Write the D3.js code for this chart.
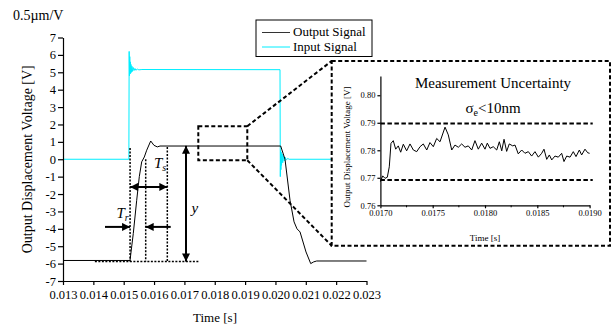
<!DOCTYPE html>
<html>
<head>
<meta charset="utf-8">
<script src="https://cdn.jsdelivr.net/npm/d3@7"></script>
<style>
  body { margin: 0; background: #fff; }
  svg text { font-family: "Liberation Serif", "DejaVu Serif", serif !important; }
</style>
</head>
<body>
<svg id="chart" width="613" height="325"></svg>
<script>
// ---- main plot data ----
const outputTime = [0.013, 0.015208, 0.015316, 0.015428, 0.015514, 0.015593, 0.015679, 0.015758, 0.015890,
  0.015998, 0.016107, 0.016196, 0.020173, 0.020315, 0.020480, 0.020613, 0.020710, 0.020810, 0.021007,
  0.021162, 0.021260, 0.021359, 0.023];
const outputVolt = [-5.82, -5.82, -4.27, -2.36, -1.0, -0.15, 0.13, 0.52, 1.05,
  0.80, 0.71, 0.76, 0.76, 0.0, -2.36, -3.6, -4.0, -4.18, -5.33,
  -6.0, -5.9, -5.85, -5.85];

const inputTime = [0.013, 0.01517, 0.01518, 0.01519, 0.01520, 0.01521, 0.01522, 0.01523, 0.01524, 0.01525,
  0.01527, 0.01529, 0.01531, 0.01534, 0.01537, 0.01540, 0.01545, 0.01550, 0.01560, 0.02015,
  0.02016, 0.02017, 0.02018, 0.02019, 0.02020, 0.02022, 0.02024, 0.02026, 0.02029, 0.02032,
  0.02036, 0.02040, 0.02045, 0.023];
const inputVolt = [0, 0, 6.2, 4.8, 5.9, 4.9, 5.6, 4.95, 5.45, 5.0,
  5.35, 5.05, 5.28, 5.1, 5.22, 5.12, 5.18, 5.14, 5.16, 5.15,
  -1.0, 0.5, -0.6, 0.4, -0.35, 0.3, -0.2, 0.2, -0.1, 0.12,
  -0.05, 0.05, 0, 0];

const xTicks = [0.013, 0.014, 0.015, 0.016, 0.017, 0.018, 0.019, 0.020, 0.021, 0.022, 0.023];
const yTicks = [-7, -6, -5, -4, -3, -2, -1, 0, 1, 2, 3, 4, 5, 6, 7];

// ---- annotation positions (data units) ----
const tStart = 0.01521, tRise = 0.015725, tSettle = 0.016437, tY = 0.017053;
const vBase = -5.88, vFinal = 0.77;
const zoomBox = [0.017458, 0.019072, 1.9, -0.06];

// ---- inset data ----
const insetTime = [0.01700, 0.017022, 0.017044, 0.017066, 0.017085, 0.017101, 0.017123, 0.017146, 0.017171, 0.017194,
  0.017219, 0.017251, 0.017283, 0.017315, 0.017347, 0.017379, 0.017410, 0.017443, 0.017474, 0.017506,
  0.017538, 0.017570, 0.017618, 0.017649, 0.017682, 0.017713, 0.017745, 0.017777, 0.017809, 0.017840,
  0.017873, 0.017904, 0.017936, 0.017968, 0.018000, 0.018022, 0.018048, 0.018079, 0.018112, 0.018137,
  0.018160, 0.018182, 0.018207, 0.018232, 0.018265, 0.018287, 0.018318, 0.018351, 0.018382, 0.018414,
  0.018446, 0.018478, 0.018510, 0.018542, 0.018564, 0.018590, 0.018615, 0.018638, 0.018669, 0.018701,
  0.018733, 0.018755, 0.018781, 0.018813, 0.018844, 0.018870, 0.018902, 0.018924, 0.018956, 0.018982,
  0.01900];
const insetVolt = [0.7686, 0.7707, 0.7698, 0.7702, 0.7740, 0.7825, 0.7835, 0.7804, 0.7816, 0.7793,
  0.7822, 0.7798, 0.7823, 0.7801, 0.7795, 0.7813, 0.7823, 0.7801, 0.7828, 0.7813,
  0.7843, 0.7831, 0.7884, 0.7856, 0.7801, 0.7819, 0.7811, 0.7823, 0.7811, 0.7816,
  0.7801, 0.7835, 0.7804, 0.7826, 0.7804, 0.7826, 0.7807, 0.7813, 0.7801, 0.7831,
  0.7798, 0.7840, 0.7796, 0.7823, 0.7816, 0.7819, 0.7787, 0.7801, 0.7789, 0.7795,
  0.7779, 0.7795, 0.7775, 0.7789, 0.7804, 0.7767, 0.7783, 0.7765, 0.7779, 0.7775,
  0.7789, 0.7759, 0.7779, 0.7775, 0.7795, 0.7777, 0.7801, 0.7783, 0.7804, 0.7791,
  0.7789];
const insetBand = [0.7692, 0.7897];
const insetXTicks = [0.0170, 0.0175, 0.0180, 0.0185, 0.0190];
const insetXMinor = [0.01725, 0.01775, 0.01825, 0.01875];
const insetYTicks = [0.76, 0.77, 0.78, 0.79, 0.80];

const FONT = "Liberation Serif";
const svg = d3.select("#chart");

svg.append("defs").append("marker")
  .attr("id", "head")
  .attr("viewBox", "0 0 10 10")
  .attr("refX", 10).attr("refY", 5)
  .attr("markerUnits", "userSpaceOnUse")
  .attr("markerWidth", 9).attr("markerHeight", 8)
  .attr("orient", "auto-start-reverse")
  .append("path").attr("d", "M0,0L10,5L0,10Z").attr("fill", "#000");

// ---- main plot ----
const x = d3.scaleLinear().domain([0.013, 0.023]).range([63, 366.5]);
const y = d3.scaleLinear().domain([-7, 7]).range([281, 37.5]);

const line = d3.line().x(d => x(d[0])).y(d => y(d[1]));

svg.append("path")
  .attr("d", line(d3.zip(inputTime, inputVolt)))
  .attr("fill", "none").attr("stroke", "#00eeff").attr("stroke-width", 1);

svg.append("path")
  .attr("d", line(d3.zip(outputTime, outputVolt)))
  .attr("fill", "none").attr("stroke", "#000").attr("stroke-width", 1);

const xAxis = svg.append("g")
  .attr("transform", `translate(0,${y(-7)})`)
  .call(d3.axisBottom(x).tickValues(xTicks).tickFormat(d3.format(".3f")).tickSize(4).tickSizeOuter(0).tickPadding(5));
const yAxis = svg.append("g")
  .attr("transform", `translate(${x(0.013)},0)`)
  .call(d3.axisLeft(y).tickValues(yTicks).tickFormat(d => String(d)).tickSize(5).tickSizeOuter(0).tickPadding(2));
[xAxis, yAxis].forEach(a => {
  a.attr("font-family", FONT);
  a.selectAll("text").attr("font-size", 12.5).attr("fill", "#000");
  a.selectAll("line,path").attr("stroke", "#000").attr("stroke-width", 1.2);
});

svg.append("text").attr("x", 215).attr("y", 322).attr("text-anchor", "middle")
  .attr("font-size", 13).text("Time [s]");
svg.append("text")
  .attr("transform", `translate(32,${y(0)}) rotate(-90)`)
  .attr("text-anchor", "middle").attr("font-size", 14)
  .text("Output Displacement Voltage [V]");
svg.append("text").attr("x", 13).attr("y", 20).attr("font-size", 14).text("0.5\u00b5m/V");

// legend
const legend = svg.append("g");
legend.append("rect").attr("x", 256).attr("y", 20).attr("width", 116).attr("height", 36.5)
  .attr("fill", "#fff").attr("stroke", "#000").attr("stroke-width", 1);
[["Output Signal", "#333", 32.5, 36], ["Input Signal", "#00eeff", 47, 51]].forEach(([label, c, ly, ty]) => {
  legend.append("line").attr("x1", 262).attr("x2", 290).attr("y1", ly).attr("y2", ly)
    .attr("stroke", c).attr("stroke-width", 1);
  legend.append("text").attr("x", 293).attr("y", ty).attr("font-size", 13).text(label);
});

// annotations
const ann = svg.append("g").attr("stroke", "#000");
const dotted = "2,1.5";
ann.append("line").attr("x1", x(0.01405)).attr("x2", x(0.01751)).attr("y1", y(vBase)).attr("y2", y(vBase))
  .attr("stroke-width", 1.5).attr("stroke-dasharray", dotted);
[[tStart, 0.65], [tRise, 0], [tSettle, 0.7]].forEach(([t, top]) => {
  ann.append("line").attr("x1", x(t)).attr("x2", x(t)).attr("y1", y(top)).attr("y2", y(vBase))
    .attr("stroke-width", 1.5).attr("stroke-dasharray", dotted);
});
ann.append("line").attr("x1", x(tStart)).attr("x2", x(tSettle)).attr("y1", y(-1.59)).attr("y2", y(-1.59))
  .attr("stroke-width", 2).attr("marker-start", "url(#head)").attr("marker-end", "url(#head)");
ann.append("line").attr("x1", x(0.014384)).attr("x2", x(tStart)).attr("y1", y(-3.89)).attr("y2", y(-3.89))
  .attr("stroke-width", 2).attr("marker-end", "url(#head)");
ann.append("line").attr("x1", x(0.016549)).attr("x2", x(tRise)).attr("y1", y(-3.89)).attr("y2", y(-3.89))
  .attr("stroke-width", 2).attr("marker-end", "url(#head)");
ann.append("line").attr("x1", x(tY)).attr("x2", x(tY)).attr("y1", y(vFinal)).attr("y2", y(vBase))
  .attr("stroke-width", 2).attr("marker-start", "url(#head)").attr("marker-end", "url(#head)");

function italicLabel(px, py, main, sub) {
  const t = svg.append("text").attr("x", px).attr("y", py).attr("font-size", 15)
    .attr("font-style", "italic").text(main);
  if (sub) t.append("tspan").attr("font-size", 10).attr("dy", 3).text(sub);
}
italicLabel(154, 168, "T", "s");
italicLabel(116.5, 218, "T", "r");
italicLabel(191.5, 213, "y");

// zoom box and connectors
const dash = "4,2.5";
svg.append("rect")
  .attr("x", x(zoomBox[0])).attr("y", y(zoomBox[2]))
  .attr("width", x(zoomBox[1]) - x(zoomBox[0])).attr("height", y(zoomBox[3]) - y(zoomBox[2]))
  .attr("fill", "none").attr("stroke", "#000").attr("stroke-width", 2).attr("stroke-dasharray", dash);

const inset = { left: 331.7, top: 61, right: 610, bottom: 245.7 };
svg.append("line").attr("x1", x(zoomBox[1])).attr("y1", y(zoomBox[2])).attr("x2", inset.left).attr("y2", inset.top)
  .attr("stroke", "#000").attr("stroke-width", 2).attr("stroke-dasharray", dash);
svg.append("line").attr("x1", x(zoomBox[1])).attr("y1", y(zoomBox[3])).attr("x2", inset.left).attr("y2", inset.bottom)
  .attr("stroke", "#000").attr("stroke-width", 2).attr("stroke-dasharray", dash);

// ---- inset ----
svg.append("rect").attr("x", inset.left).attr("y", inset.top)
  .attr("width", inset.right - inset.left).attr("height", inset.bottom - inset.top)
  .attr("fill", "#fff").attr("stroke", "#000").attr("stroke-width", 2).attr("stroke-dasharray", dash);

const xi = d3.scaleLinear().domain([0.017, 0.019]).range([380.4, 589.6]);
const yi = d3.scaleLinear().domain([0.76, 0.807]).range([205.3, 76]);

insetBand.forEach(v => {
  svg.append("line").attr("x1", xi(0.017)).attr("x2", xi(0.01903)).attr("y1", yi(v)).attr("y2", yi(v))
    .attr("stroke", "#000").attr("stroke-width", 2).attr("stroke-dasharray", "4.5,2.5");
});

svg.append("path")
  .attr("d", d3.line().x(d => xi(d[0])).y(d => yi(d[1]))(d3.zip(insetTime, insetVolt)))
  .attr("fill", "none").attr("stroke", "#000").attr("stroke-width", 1);

const xiAxis = svg.append("g").attr("transform", `translate(0,${yi(0.76)})`)
  .call(d3.axisBottom(xi).tickValues(insetXTicks).tickFormat(d3.format(".4f")).tickSize(3).tickSizeOuter(0).tickPadding(2));
svg.append("g").attr("transform", `translate(0,${yi(0.76)})`)
  .selectAll("line").data(insetXMinor).join("line")
  .attr("x1", d => xi(d)).attr("x2", d => xi(d)).attr("y1", 0).attr("y2", 2)
  .attr("stroke", "#000");
const yiAxis = svg.append("g").attr("transform", `translate(${xi(0.017)},0)`)
  .call(d3.axisLeft(yi).tickValues(insetYTicks).tickFormat(d3.format(".2f")).tickSize(3).tickSizeOuter(0).tickPadding(2));
[xiAxis, yiAxis].forEach(a => {
  a.attr("font-family", FONT);
  a.selectAll("text").attr("font-size", 8.5).attr("fill", "#000");
  a.selectAll("line,path").attr("stroke", "#000").attr("stroke-width", 1.2);
});

svg.append("text").attr("x", 485).attr("y", 241).attr("text-anchor", "middle")
  .attr("font-size", 9).text("Time [s]");
svg.append("text")
  .attr("transform", "translate(350,147) rotate(-90)")
  .attr("text-anchor", "middle").attr("font-size", 9)
  .text("Output Displacement Voltage [V]");
svg.append("text").attr("x", 493).attr("y", 88).attr("text-anchor", "middle")
  .attr("font-size", 15).text("Measurement Uncertainty");
const sig = svg.append("text").attr("x", 493).attr("y", 113).attr("text-anchor", "middle").attr("font-size", 15);
sig.append("tspan").text("\u03c3");
sig.append("tspan").attr("font-size", 10).attr("dy", 3).text("e");
sig.append("tspan").attr("dy", -3).text("<10nm");
</script>
</body>
</html>
